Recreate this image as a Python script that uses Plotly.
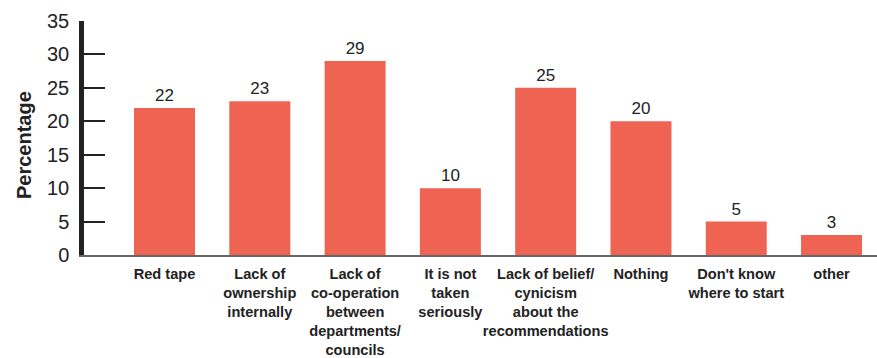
import plotly.graph_objects as go

# Survey responses: barriers to acting on recommendations
categories = [
    "Red tape",
    "Lack of<br>ownership<br>internally",
    "Lack of<br>co-operation<br>between<br>departments/<br>councils",
    "It is not<br>taken<br>seriously",
    "Lack of belief/<br>cynicism<br>about the<br>recommendations",
    "Nothing",
    "Don't know<br>where to start",
    "other",
]
percentages = [22, 23, 29, 10, 25, 20, 5, 3]
y_ticks = [0, 5, 10, 15, 20, 25, 30, 35]

BAR_COLOR = "#EE6352"
TEXT_COLOR = "#222222"
FONT = "Liberation Sans, Arial, Helvetica, sans-serif"

fig = go.Figure(
    go.Bar(
        x=list(range(len(categories))),
        y=percentages,
        marker=dict(color=BAR_COLOR, line=dict(width=0)),
        text=[str(v) for v in percentages],
        textposition="outside",
        textfont=dict(family=FONT, size=17, color=TEXT_COLOR),
        cliponaxis=False,
        width=0.64,
    )
)

fig.update_layout(
    width=877,
    height=358,
    margin=dict(l=84, r=0, t=21, b=103),
    paper_bgcolor="white",
    plot_bgcolor="white",
    showlegend=False,
    font=dict(family=FONT, color=TEXT_COLOR),
    xaxis=dict(
        range=[-0.845, 7.477],
        tickmode="array",
        tickvals=list(range(len(categories))),
        ticktext=categories,
        tickangle=0,
        automargin=False,
        tickfont=dict(family=FONT, size=14.6, color=TEXT_COLOR, weight="bold"),
        ticks="",
        showgrid=False,
        zeroline=False,
        showline=True,
        linecolor="#666666",
        linewidth=1.5,
        ticklabelstandoff=5,
    ),
    yaxis=dict(
        range=[0, 35],
        tickmode="array",
        tickvals=y_ticks,
        automargin=False,
        tickfont=dict(family=FONT, size=20, color=TEXT_COLOR),
        ticks="inside",
        ticklen=21,
        tickwidth=1.5,
        tickcolor=TEXT_COLOR,
        showgrid=False,
        zeroline=False,
        showline=True,
        linecolor=TEXT_COLOR,
        linewidth=4.5,
        ticklabelstandoff=6,
    ),
    annotations=[
        dict(
            text="<b>Percentage</b>",
            textangle=-90,
            xref="paper",
            yref="paper",
            x=(24 - 84) / 793,
            y=(255 - 145) / 234,
            xanchor="center",
            yanchor="middle",
            showarrow=False,
            font=dict(family=FONT, size=20, color=TEXT_COLOR),
        )
    ],
)

fig.write_html("out.html")
